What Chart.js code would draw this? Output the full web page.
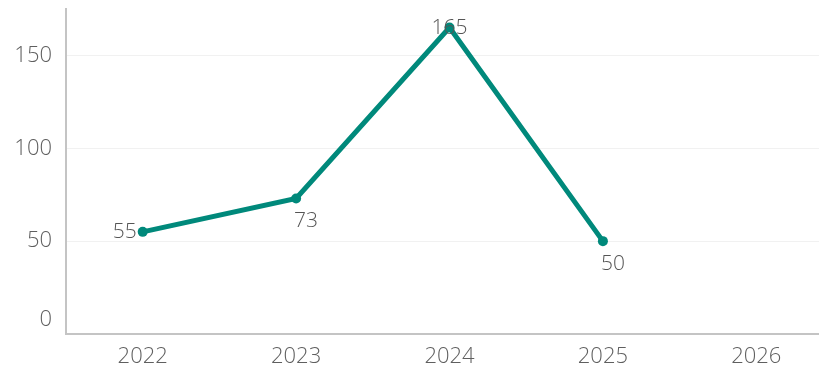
<!DOCTYPE html>
<html>
<head>
<meta charset="utf-8">
<script src="https://cdn.jsdelivr.net/npm/chart.js@4.4.1/dist/chart.umd.min.js"></script>
<style>
  html, body { margin: 0; padding: 0; background: #ffffff; overflow: hidden; }
  #wrap { position: relative; width: 838px; height: 370px; }
</style>
</head>
<body>
<div id="wrap"><canvas id="chart"></canvas></div>
<script>
// Yearly values; 2026 has no value yet
const years = ['2022', '2023', '2024', '2025', '2026'];
const values = [55, 73, 165, 50, null];
const yTicks = [0, 50, 100, 150];
// where each value label sits relative to its point
const labelPlacement = ['left', 'below', 'center', 'below', 'none'];

const TEAL = '#00897b';
const FONT = "'Open Sans', sans-serif";

const valueLabels = {
  id: 'valueLabels',
  afterDatasetsDraw(chart) {
    const ctx = chart.ctx;
    const meta = chart.getDatasetMeta(0);
    ctx.save();
    ctx.font = '300 21px ' + FONT;
    ctx.fillStyle = '#555555';
    meta.data.forEach((pt, i) => {
      const v = values[i];
      if (v === null || v === undefined) return;
      const place = labelPlacement[i];
      let x = pt.x, y = pt.y;
      ctx.textBaseline = 'middle';
      if (place === 'left') { ctx.textAlign = 'right'; x -= 6; }
      else if (place === 'below') { ctx.textAlign = 'left'; x -= 2; y += 23; }
      else { ctx.textAlign = 'center'; }
      ctx.fillText(String(v), x, y);
    });
    ctx.restore();
  }
};

// the zero label sits just above the baseline
const zeroLabel = {
  id: 'zeroLabel',
  afterDraw(chart) {
    const s = chart.scales.y;
    const ctx = chart.ctx;
    ctx.save();
    ctx.font = '300 22px ' + FONT;
    ctx.fillStyle = '#5f5f5f';
    ctx.textAlign = 'right';
    ctx.textBaseline = 'middle';
    ctx.fillText(String(yTicks[0]), s.right - 14, s.getPixelForValue(0) - 14);
    ctx.restore();
  }
};

new Chart(document.getElementById('chart'), {
  type: 'line',
  data: {
    labels: years,
    datasets: [{
      data: values,
      borderColor: TEAL,
      backgroundColor: TEAL,
      borderWidth: 5,
      pointRadius: 5,
      pointHoverRadius: 5,
      pointBackgroundColor: TEAL,
      pointBorderWidth: 0,
      tension: 0,
      spanGaps: false
    }]
  },
  options: {
    responsive: true,
    maintainAspectRatio: false,
    animation: false,
    events: [],
    layout: { padding: { left: 0, right: 0, top: 9, bottom: 0 } },
    plugins: { legend: { display: false }, tooltip: { enabled: false } },
    scales: {
      x: {
        offset: true,
        grid: { display: false, drawTicks: false },
        border: { display: true, color: '#c4c4c4', width: 2 },
        ticks: { color: '#5f5f5f', font: { family: FONT, size: 22, weight: 300 }, padding: 10, maxRotation: 0 },
        afterFit(scale) { scale.paddingLeft = 0; scale.paddingRight = 0; scale.height = 36; }
      },
      y: {
        min: 0,
        max: 175,
        afterBuildTicks(scale) {
          scale.ticks = yTicks.map(v => ({ value: v }));
        },
        afterFit(scale) { scale.paddingTop = 0; scale.paddingBottom = 0; scale.width = 66; },
        grid: { color: '#f1f1f1', lineWidth: 1, drawTicks: false },
        border: { display: true, color: '#c4c4c4', width: 2 },
        ticks: {
          color: '#5f5f5f',
          font: { family: FONT, size: 22, weight: 300 },
          padding: 14,
          callback: (v) => (v === 0 ? '' : String(v))
        }
      }
    }
  },
  plugins: [valueLabels, zeroLabel]
});
</script>
</body>
</html>
